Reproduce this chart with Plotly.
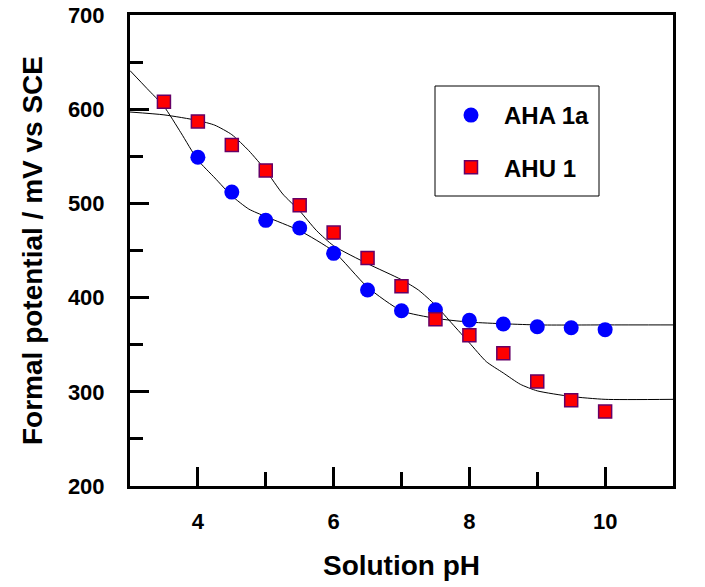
import plotly.graph_objects as go

# Measured data
ph = [4.0, 4.5, 5.0, 5.5, 6.0, 6.5, 7.0, 7.5, 8.0, 8.5, 9.0, 9.5, 10.0]
aha_1a = [549, 512, 482, 474, 447, 408, 386, 387, 376, 372, 369, 368, 366]

ph_ahu = [3.5, 4.0, 4.5, 5.0, 5.5, 6.0, 6.5, 7.0, 7.5, 8.0, 8.5, 9.0, 9.5, 10.0]
ahu_1 = [608, 587, 562, 535, 498, 469, 442, 412, 377, 360, 341, 311, 291, 279]

# Fitted curves
fit_aha_x = [3.0, 3.25, 3.5, 3.75, 4.0, 4.25, 4.5, 4.75, 5.0, 5.5, 6.0, 6.5, 7.0, 7.5, 8.0, 9.0, 10.0, 11.0]
fit_aha_y = [641, 622, 603, 575, 546, 527, 508, 494, 486, 471, 449, 411, 386, 378, 374, 371, 371, 371]

fit_ahu_x = [3.0, 3.5, 4.0, 4.25, 4.5, 4.75, 5.0, 5.25, 5.5, 5.75, 6.0, 6.5, 7.0, 7.25, 7.5, 7.75,
             8.0, 8.25, 8.5, 8.75, 9.0, 9.5, 10.0, 11.0]
fit_ahu_y = [597, 594, 588, 583, 573, 556, 535, 510, 492, 471, 455, 436, 419, 408, 392, 372,
             352, 332, 320, 308, 301, 295, 292, 292]

x_ticks = [4, 6, 8, 10]
y_ticks = [200, 300, 400, 500, 600, 700]

FONT = "Liberation Sans, Arial, sans-serif"

fig = go.Figure()
fig.add_trace(go.Scatter(x=fit_aha_x, y=fit_aha_y, mode="lines",
                         line=dict(color="black", width=1, shape="spline", smoothing=0.6),
                         showlegend=False, hoverinfo="skip"))
fig.add_trace(go.Scatter(x=fit_ahu_x, y=fit_ahu_y, mode="lines",
                         line=dict(color="black", width=1, shape="spline", smoothing=0.6),
                         showlegend=False, hoverinfo="skip"))
fig.add_trace(go.Scatter(x=ph, y=aha_1a, mode="markers", name="AHA 1a",
                         legendgroup="a",
                         marker=dict(symbol="circle", size=15, color="#0000FF",
                                     line=dict(color="#0000FF", width=0))))
fig.add_trace(go.Scatter(x=ph_ahu, y=ahu_1, mode="markers", name="AHU 1",
                         legendgroup="b",
                         marker=dict(symbol="square", size=13, color="#FF0000",
                                     line=dict(color="#660066", width=1.5))))

axis_common = dict(
    showgrid=False, zeroline=False, showline=True, linecolor="black", linewidth=3,
    mirror=True, ticks="inside", tickcolor="black", tickwidth=3, ticklen=19,
    tickfont=dict(family=FONT, size=22, color="black", weight="bold"),
    automargin=False,
)

fig.update_xaxes(range=[3, 11], tickmode="array", tickvals=x_ticks,
                 minor=dict(dtick=1, tick0=3, ticks="inside", ticklen=14, tickwidth=3,
                            tickcolor="black"),
                 ticklabelstandoff=14,
                 title=dict(text="Solution pH", standoff=22,
                            font=dict(family=FONT, size=28, color="black", weight="bold")),
                 **axis_common)
fig.update_yaxes(range=[200, 700], tickmode="array", tickvals=y_ticks,
                 minor=dict(dtick=50, tick0=200, ticks="inside", ticklen=13, tickwidth=3,
                            tickcolor="black"),
                 ticklabelstandoff=18,
                 title=dict(text="Formal potential / mV vs SCE", standoff=18,
                            font=dict(family=FONT, size=28, color="black", weight="bold")),
                 **axis_common)

# Plot area spans pixels 130..673 horizontally and 15..486 vertically
fig.add_shape(type="rect", xref="paper", yref="paper",
              x0=(435 - 130) / 543, x1=(599 - 130) / 543,
              y0=(486 - 196) / 471, y1=(486 - 86) / 471,
              line=dict(color="black", width=1), fillcolor="white", layer="below")

fig.update_layout(
    width=705, height=587,
    margin=dict(l=130, r=32, t=15, b=101),
    paper_bgcolor="white", plot_bgcolor="white",
    showlegend=True,
    legend=dict(x=(438 - 130) / 543, y=(486 - 93) / 471, xanchor="left", yanchor="top",
                bgcolor="rgba(0,0,0,0)", borderwidth=0,
                traceorder="grouped", tracegroupgap=18, itemwidth=56,
                font=dict(family=FONT, size=24, color="black", weight="bold")),
)

fig.write_html("out.html", config={"displayModeBar": False},
               post_script="document.body.style.margin='0';")
